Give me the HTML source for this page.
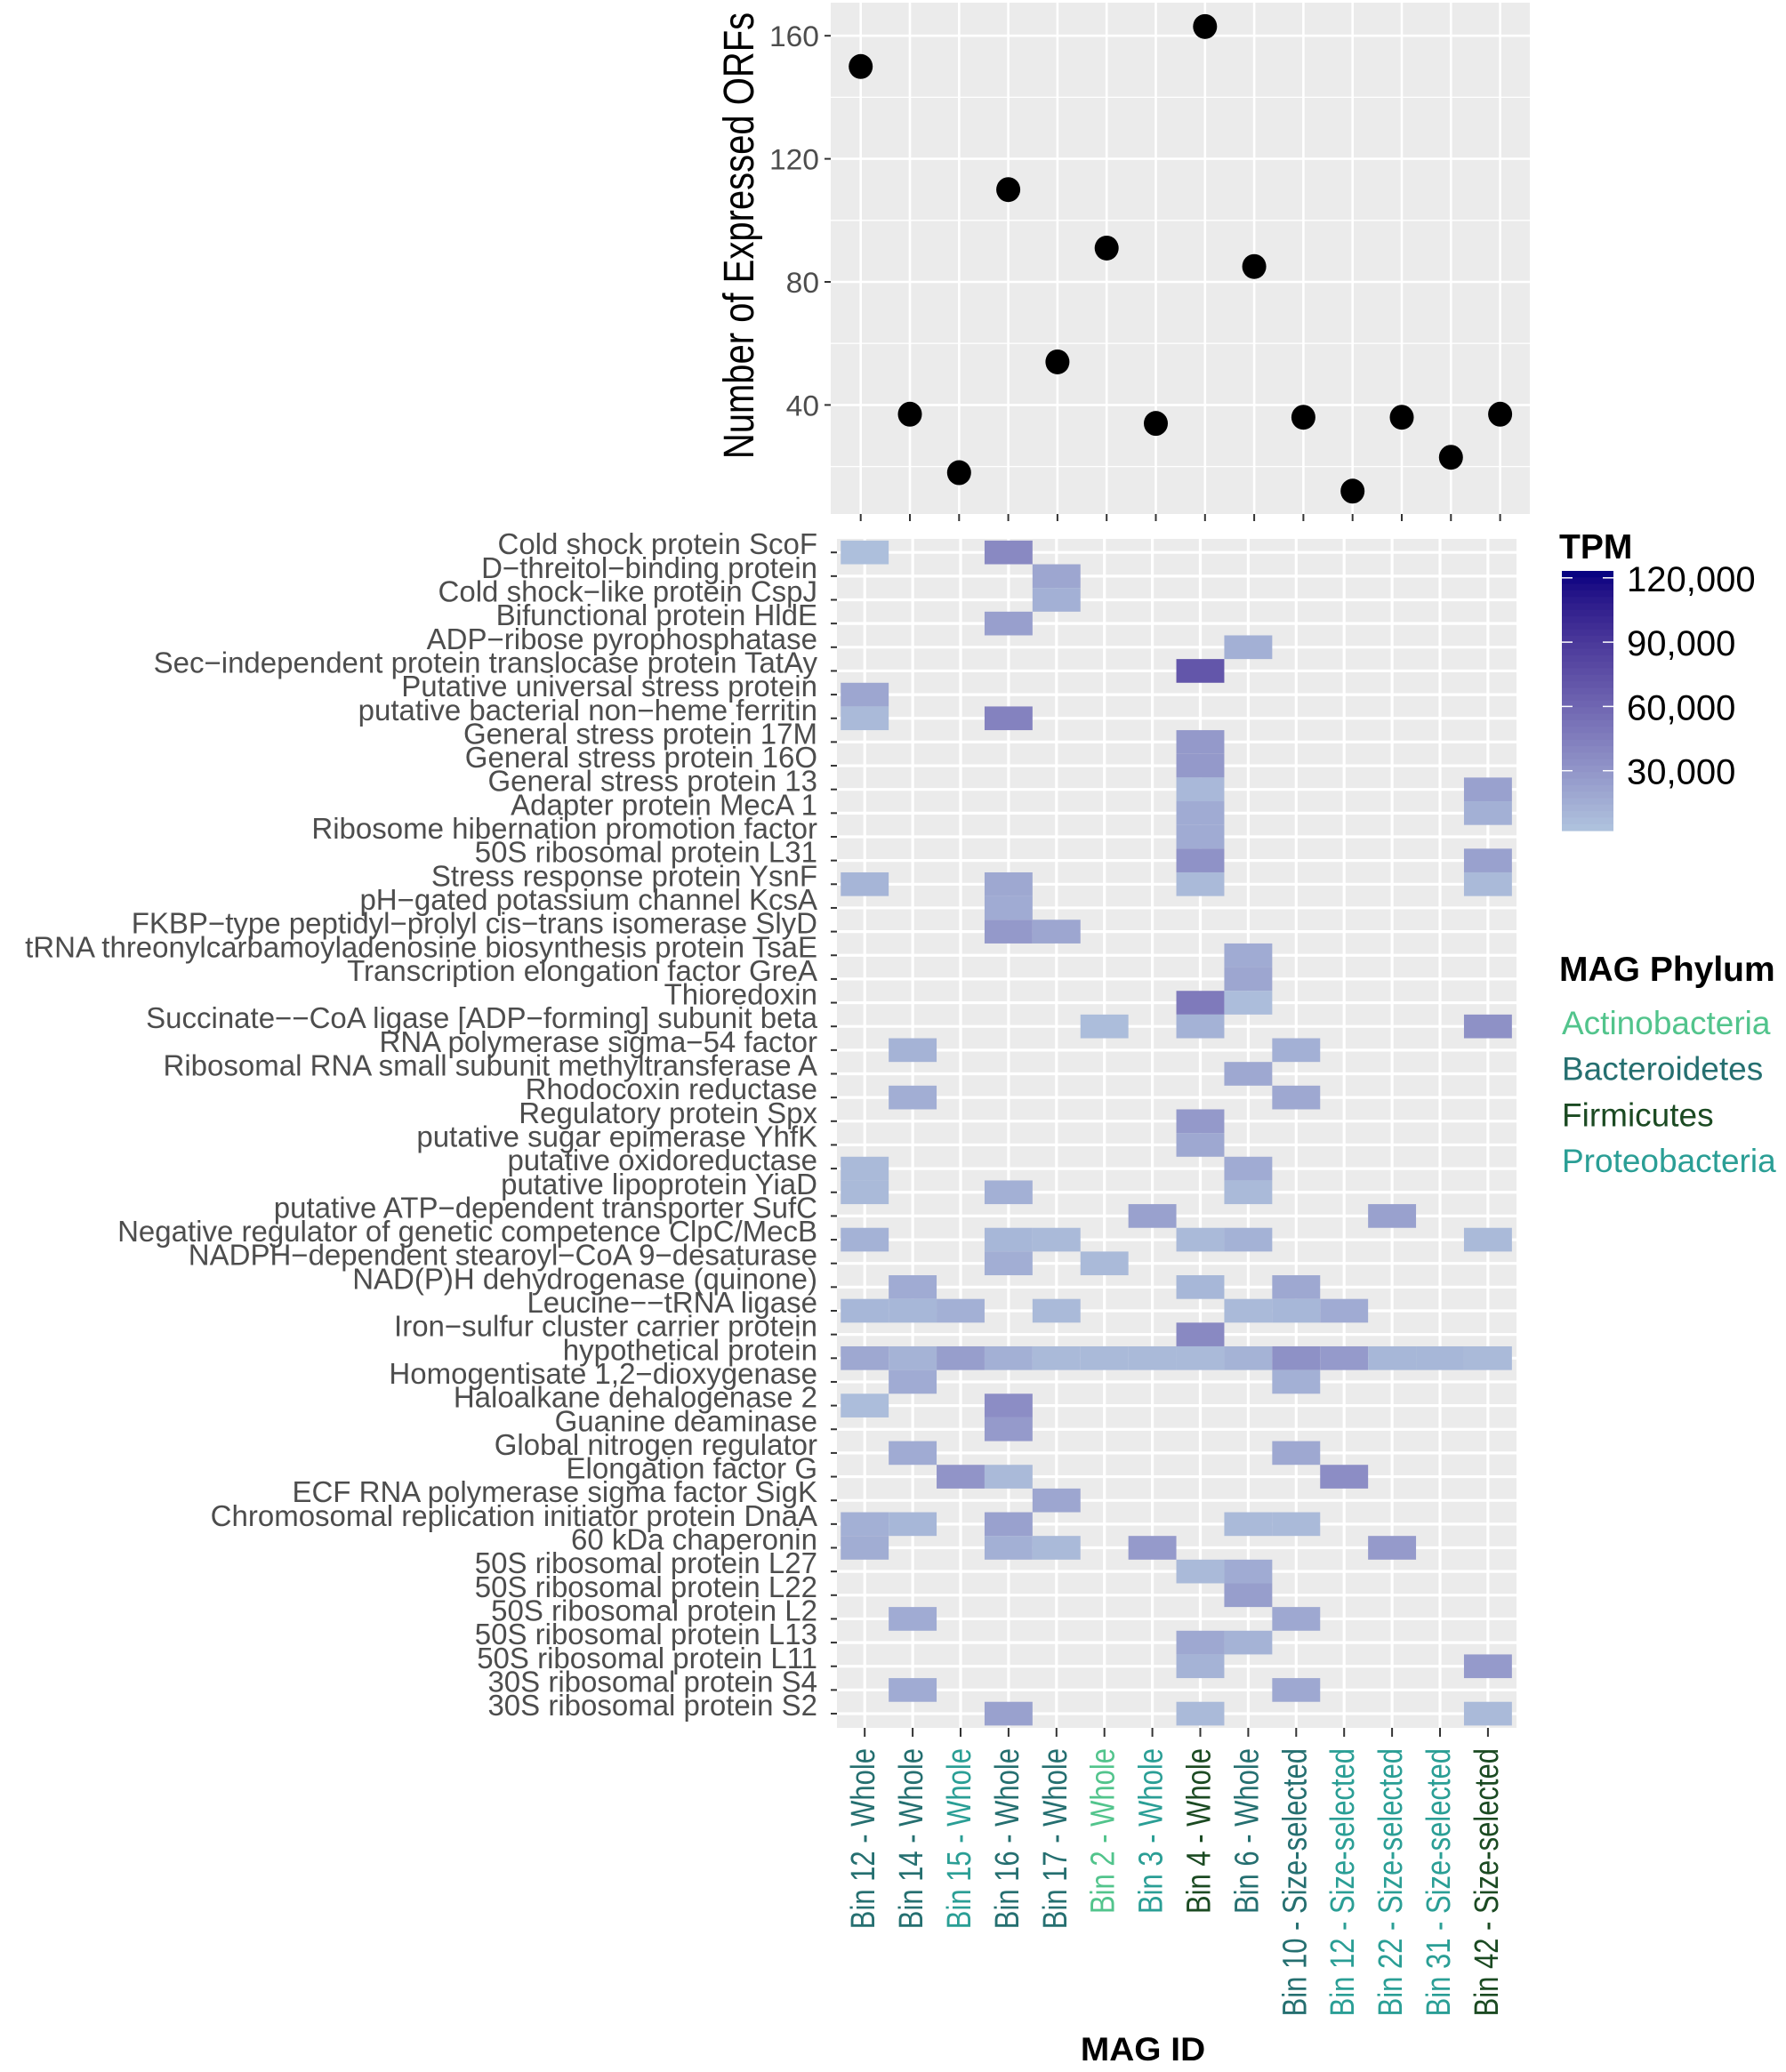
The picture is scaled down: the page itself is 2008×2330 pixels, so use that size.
<!DOCTYPE html>
<html><head><meta charset="utf-8"><style>
html,body{margin:0;padding:0;background:#fff;}
svg{display:block;font-family:"Liberation Sans",Arial,sans-serif;}
</style></head><body>
<svg id="chart" width="2008" height="2330" viewBox="0 0 2008 2330" xmlns="http://www.w3.org/2000/svg">
<rect x="0" y="0" width="2008" height="2330" fill="#ffffff"/>
<g id="topPanel"></g>
<g id="heat"></g>
<g id="legend"></g>
</svg>
<script>
// ---- data ----
const mags = ["Bin 12 - Whole","Bin 14 - Whole","Bin 15 - Whole","Bin 16 - Whole","Bin 17 - Whole","Bin 2 - Whole","Bin 3 - Whole","Bin 4 - Whole","Bin 6 - Whole","Bin 10 - Size-selected","Bin 12 - Size-selected","Bin 22 - Size-selected","Bin 31 - Size-selected","Bin 42 - Size-selected"];
const magPhylum = ["Bacteroidetes","Bacteroidetes","Proteobacteria","Bacteroidetes","Bacteroidetes","Actinobacteria","Proteobacteria","Firmicutes","Bacteroidetes","Bacteroidetes","Proteobacteria","Proteobacteria","Proteobacteria","Firmicutes"];
const orfCounts = [150,37,18,110,54,91,34,163,85,36,12,36,23,37];
const orfTicks = [40,80,120,160];
const orfMinor = [20,60,100,140];
const proteins = ["Cold shock protein ScoF","D\u2212threitol\u2212binding protein","Cold shock\u2212like protein CspJ","Bifunctional protein HldE","ADP\u2212ribose pyrophosphatase","Sec\u2212independent protein translocase protein TatAy","Putative universal stress protein","putative bacterial non\u2212heme ferritin","General stress protein 17M","General stress protein 16O","General stress protein 13","Adapter protein MecA 1","Ribosome hibernation promotion factor","50S ribosomal protein L31","Stress response protein YsnF","pH\u2212gated potassium channel KcsA","FKBP\u2212type peptidyl\u2212prolyl cis\u2212trans isomerase SlyD","tRNA threonylcarbamoyladenosine biosynthesis protein TsaE","Transcription elongation factor GreA","Thioredoxin","Succinate\u2212\u2212CoA ligase [ADP\u2212forming] subunit beta","RNA polymerase sigma\u221254 factor","Ribosomal RNA small subunit methyltransferase A","Rhodocoxin reductase","Regulatory protein Spx","putative sugar epimerase YhfK","putative oxidoreductase","putative lipoprotein YiaD","putative ATP\u2212dependent transporter SufC","Negative regulator of genetic competence ClpC/MecB","NADPH\u2212dependent stearoyl\u2212CoA 9\u2212desaturase","NAD(P)H dehydrogenase (quinone)","Leucine\u2212\u2212tRNA ligase","Iron\u2212sulfur cluster carrier protein","hypothetical protein","Homogentisate 1,2\u2212dioxygenase","Haloalkane dehalogenase 2","Guanine deaminase","Global nitrogen regulator","Elongation factor G","ECF RNA polymerase sigma factor SigK","Chromosomal replication initiator protein DnaA","60 kDa chaperonin","50S ribosomal protein L27","50S ribosomal protein L22","50S ribosomal protein L2","50S ribosomal protein L13","50S ribosomal protein L11","30S ribosomal protein S4","30S ribosomal protein S2"];
const cellRow = [0,0,1,2,3,4,5,6,7,7,8,9,10,10,11,11,12,13,13,14,14,14,14,15,16,16,17,18,19,19,20,20,20,21,21,22,23,23,24,25,26,26,27,27,27,28,28,29,29,29,29,29,29,30,30,31,31,31,32,32,32,32,32,32,32,33,34,34,34,34,34,34,34,34,34,34,34,34,34,34,35,35,36,36,37,38,38,39,39,39,40,41,41,41,41,41,42,42,42,42,42,43,43,44,45,45,46,46,47,47,48,48,49,49,49];
const cellCol = [0,3,4,4,3,8,7,0,0,3,7,7,7,13,7,13,7,7,13,0,3,7,13,3,3,4,8,8,7,8,5,7,13,1,9,8,1,9,7,7,0,8,0,3,8,6,11,0,3,4,7,8,13,3,5,1,7,9,0,1,2,4,8,9,10,7,0,1,2,3,4,5,6,7,8,9,10,11,12,13,1,9,0,3,3,1,9,2,3,10,4,0,1,3,8,9,0,3,4,6,11,7,8,8,1,9,7,8,7,13,1,9,3,7,13];
const cellTPM = [5000,38000,20000,14000,24000,14000,70000,20000,8000,42000,28000,28000,9000,23000,17000,14000,17000,32000,23000,11000,19000,8000,8000,17000,28000,20000,17000,20000,47000,6000,6000,13000,33000,12000,14000,19000,15000,19000,28000,19000,8000,17000,8000,14000,8000,23000,23000,13000,10000,8000,8000,13000,8000,15000,8000,17000,10000,19000,10000,10000,14000,8000,8000,10000,17000,38000,19000,12000,25000,14000,8000,8000,8000,8000,12000,33000,27000,10000,10000,8000,17000,14000,6000,35000,27000,17000,19000,31000,8000,35000,20000,14000,10000,23000,8000,8000,16000,14000,8000,27000,27000,8000,17000,25000,17000,19000,19000,12000,12000,27000,17000,19000,23000,8000,8000];
const tpmTicks = [30000,60000,90000,120000];
const tpmTickLabels = ["30,000","60,000","90,000","120,000"];
const phyla = ["Actinobacteria","Bacteroidetes","Firmicutes","Proteobacteria"];
const phylaColors = ["#52c48c","#256f70","#1b4a22","#2a9e95"];

const NS="http://www.w3.org/2000/svg";
function mk(parent,tag,attrs){const e=document.createElementNS(NS,tag);for(const k in attrs)e.setAttribute(k,attrs[k]);parent.appendChild(e);return e;}
const topG=document.getElementById('topPanel'),heat=document.getElementById('heat'),leg=document.getElementById('legend');

const TP={x0:934,x1:1720,y0:3,y1:578};
const xTop=i=>967.7+55.3*i;
const yTop=v=>593.8-3.46*v;
const HP={x0:941,x1:1705,y0:606,y1:1943};
const xHeat=i=>972.2+53.9*i;
const yHeat=j=>621.2+26.65*j;
const CW=53.9,RH=26.65;
const TPM_MIN=2000,TPM_MAX=123000;
const yBar=v=>939-v*(72.3/30000);

function hex2rgb(h){return [parseInt(h.substr(1,2),16),parseInt(h.substr(3,2),16),parseInt(h.substr(5,2),16)];}
function lin(c){c/=255;return c<=0.04045?c/12.92:Math.pow((c+0.055)/1.055,2.4);}
function gam(c){c=c<=0.0031308?12.92*c:1.055*Math.pow(c,1/2.4)-0.055;return Math.max(0,Math.min(255,Math.round(c*255)));}
function rgb2lab(rgb){const [r,g,b]=rgb.map(lin);let X=(r*0.4124+g*0.3576+b*0.1805)/0.95047,Y=r*0.2126+g*0.7152+b*0.0722,Z=(r*0.0193+g*0.1192+b*0.9505)/1.08883;const f=t=>t>0.008856?Math.cbrt(t):7.787*t+16/116;const fx=f(X),fy=f(Y),fz=f(Z);return [116*fy-16,500*(fx-fy),200*(fy-fz)];}
function lab2rgb(l){const fy=(l[0]+16)/116,fx=fy+l[1]/500,fz=fy-l[2]/200;const g=t=>t*t*t>0.008856?t*t*t:(t-16/116)/7.787;const X=g(fx)*0.95047,Y=g(fy),Z=g(fz)*1.08883;const r=X*3.2406-Y*1.5372-Z*0.4986,gg=-X*0.9689+Y*1.8758+Z*0.0415,b=X*0.0557-Y*0.2040+Z*1.0570;return 'rgb('+gam(r)+','+gam(gg)+','+gam(b)+')';}
const LO=rgb2lab(hex2rgb('#b0c4de')),HI=rgb2lab(hex2rgb('#000080'));
function tpmColor(v){let t=(v-TPM_MIN)/(TPM_MAX-TPM_MIN);t=Math.max(0,Math.min(1,t));return lab2rgb([0,1,2].map(k=>LO[k]+(HI[k]-LO[k])*t));}

// ---- top panel ----
const tbg=mk(topG,'rect',{x:TP.x0,y:TP.y0,width:TP.x1-TP.x0,height:TP.y1-TP.y0,fill:'#ebebeb'});


orfMinor.forEach(v=>{const l=mk(topG,'line',{x1:TP.x0,x2:TP.x1,y1:yTop(v),y2:yTop(v),stroke:'#fff','stroke-width':1.3});

});
orfTicks.forEach(v=>{const l=mk(topG,'line',{x1:TP.x0,x2:TP.x1,y1:yTop(v),y2:yTop(v),stroke:'#fff','stroke-width':2.6});


const t=mk(topG,'line',{x1:927,x2:934,y1:yTop(v),y2:yTop(v),stroke:'#333','stroke-width':2});


const tx=mk(topG,'text',{x:0,y:0,transform:'translate(921,'+(yTop(v)+12)+') scale(1.05,1)','text-anchor':'end','font-size':32,fill:'#4d4d4d'});tx.textContent=v;

});
mags.forEach((m,i)=>{const l=mk(topG,'line',{x1:xTop(i),x2:xTop(i),y1:TP.y0,y2:TP.y1,stroke:'#fff','stroke-width':2.6});


const t=mk(topG,'line',{x1:xTop(i),x2:xTop(i),y1:578,y2:586,stroke:'#333','stroke-width':2});

});
orfCounts.forEach((v,i)=>{const c=mk(topG,'ellipse',{cx:xTop(i),cy:yTop(v),rx:13.5,ry:14,fill:'#000'});

});
const yt=mk(topG,'text',{x:0,y:0,transform:'translate(847,265) scale(1.2,1) rotate(-90)','text-anchor':'middle','font-size':40,fill:'#000'});yt.textContent='Number of Expressed ORFs';



// ---- heatmap ----
const hbg=mk(heat,'rect',{x:HP.x0,y:HP.y0,width:HP.x1-HP.x0,height:HP.y1-HP.y0,fill:'#ebebeb'});


proteins.forEach((p,j)=>{const l=mk(heat,'line',{x1:HP.x0,x2:HP.x1,y1:yHeat(j),y2:yHeat(j),stroke:'#fff','stroke-width':3.2});


const t=mk(heat,'line',{x1:934,x2:941,y1:yHeat(j),y2:yHeat(j),stroke:'#333','stroke-width':2});


const tx=mk(heat,'text',{x:0,y:0,transform:'translate(919,'+(yHeat(j)+2)+')','text-anchor':'end','font-size':33,fill:'#4d4d4d'});tx.textContent=p;

});
mags.forEach((m,i)=>{const l=mk(heat,'line',{x1:xHeat(i),x2:xHeat(i),y1:HP.y0,y2:HP.y1,stroke:'#fff','stroke-width':3.2});


const t=mk(heat,'line',{x1:xHeat(i),x2:xHeat(i),y1:1943,y2:1953,stroke:'#333','stroke-width':2});


const col=phylaColors[phyla.indexOf(magPhylum[i])];
const tx=mk(heat,'text',{x:0,y:0,transform:'translate('+(xHeat(i)+11)+',1966) scale(1.22,1) rotate(-90)','text-anchor':'end','font-size':31,fill:col});tx.textContent=m;

});
cellTPM.forEach((v,k)=>{const c=mk(heat,'rect',{x:xHeat(cellCol[k])-CW/2,y:yHeat(cellRow[k])-RH/2,width:CW,height:RH,fill:tpmColor(v)});

});
const xt=mk(heat,'text',{x:0,y:0,transform:'translate(1285,2317) scale(1.05,1)','text-anchor':'middle','font-size':37,'font-weight':'bold',fill:'#000'});xt.textContent='MAG ID';



// ---- legends ----
const lt=mk(leg,'text',{x:1753,y:628,'font-size':39,'font-weight':'bold',fill:'#000'});lt.textContent='TPM';


const NB=40,by0=642,by1=934;
for(let b=0;b<NB;b++){const ya=by0+(by1-by0)*b/NB;const v=TPM_MAX-(TPM_MAX-TPM_MIN)*(b+0.5)/NB;
const r=mk(leg,'rect',{x:1756,y:ya,width:58,height:(by1-by0)/NB+0.6,fill:tpmColor(v)});

}
tpmTicks.forEach((v,i)=>{const y=yBar(v);
const a=mk(leg,'line',{x1:1756,x2:1768,y1:y,y2:y,stroke:'#fff','stroke-width':1.5});


const b=mk(leg,'line',{x1:1802,x2:1814,y1:y,y2:y,stroke:'#fff','stroke-width':1.5});


const t=mk(leg,'text',{x:1829,y:y+15,'font-size':40,fill:'#000'});t.textContent=tpmTickLabels[i];

});
const pt=mk(leg,'text',{x:1753,y:1103,'font-size':39,'font-weight':'bold',fill:'#000'});pt.textContent='MAG Phylum';


phyla.forEach((p,i)=>{const t=mk(leg,'text',{x:1756,y:1163+51.7*i,'font-size':37,fill:phylaColors[i]});t.textContent=p;

});
</script>
</body></html>
